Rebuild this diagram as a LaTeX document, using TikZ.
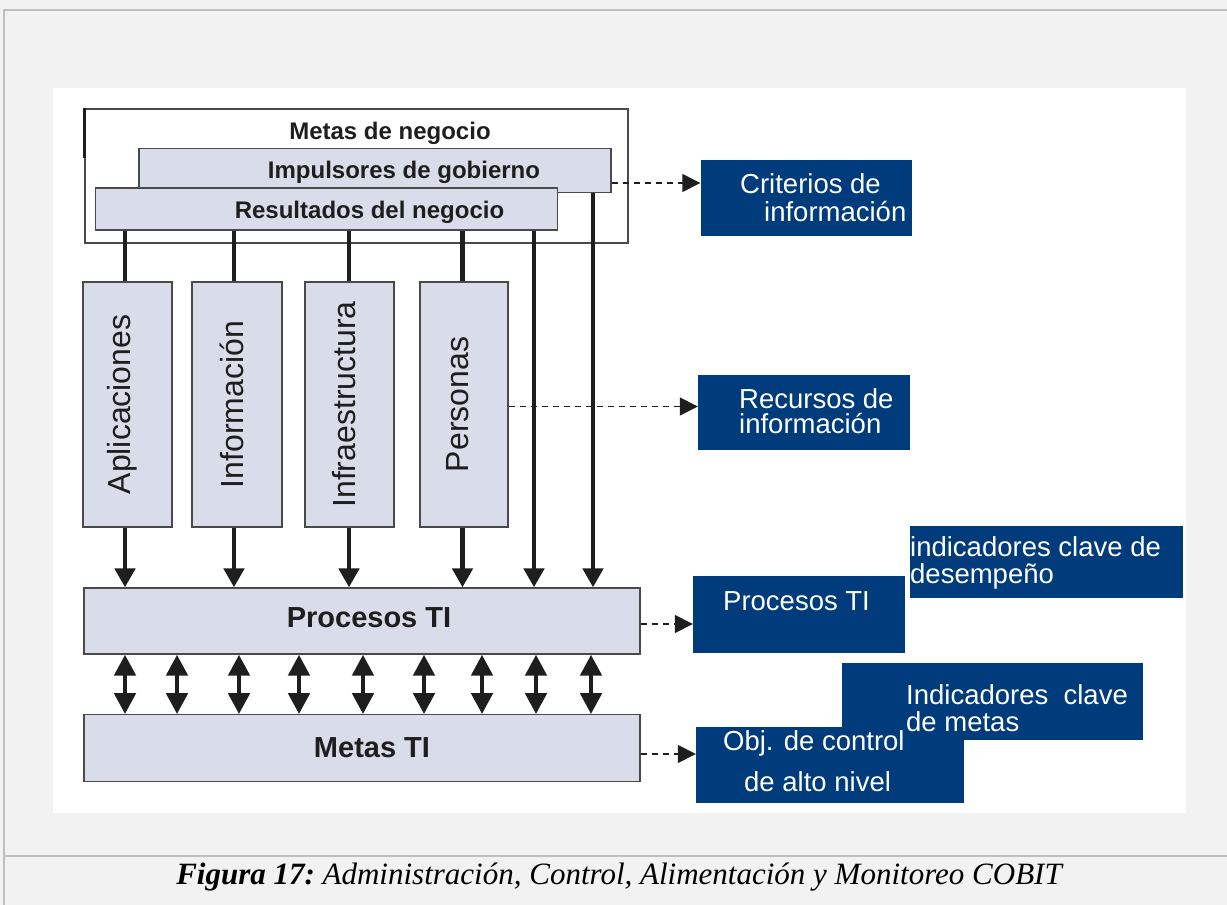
\documentclass[tikz,border=0pt]{standalone}
\usepackage{fontspec}
\setmainfont{Liberation Serif}
\newfontfamily\arialfont{Liberation Sans}
\usetikzlibrary{arrows.meta}

\definecolor{pagegray}{HTML}{F2F2F2}
\definecolor{rulegray}{HTML}{BFBFBF}
\definecolor{lightfill}{HTML}{D9DCE9}
\definecolor{boxline}{HTML}{4A4A4A}
\definecolor{ink}{HTML}{1E1E1E}
\definecolor{cobalt}{HTML}{003B7C}

\begin{document}
\begin{tikzpicture}[x=1pt,y=-1pt,
  framebox/.style={draw=boxline, line width=1.3pt, rectangle, inner sep=0pt},
  lightbox/.style={draw=boxline, fill=lightfill, line width=1.3pt, rectangle, inner sep=0pt},
  bluebox/.style={fill=cobalt, draw=none, rectangle, inner sep=0pt},
  hdr/.style={font=\arialfont\bfseries\fontsize{24}{28}\selectfont, text=ink, inner sep=0pt},
  bighdr/.style={font=\arialfont\bfseries\fontsize{29}{34}\selectfont, text=ink, inner sep=0pt},
  restext/.style={font=\arialfont\fontsize{32}{38}\selectfont, text=ink, inner sep=0pt, rotate=90},
  bluetext/.style={font=\arialfont\fontsize{27.5}{25}\selectfont, text=white, inner sep=0pt,
    anchor=base west, align=left},
  thk/.style={line width=4.8pt, draw=ink},
  thkarrow/.style={thk, -{Triangle[length=19pt,width=20pt]}},
  dblarrow/.style={thk, {Triangle[length=21pt,width=21pt]}-{Triangle[length=21pt,width=21pt]}},
  dsh/.style={line width=1.5pt, draw=ink, dash pattern=on 6pt off 5pt, -{Triangle[length=18pt,width=18pt]}}
]
\useasboundingbox (0,0) rectangle (1227,905);

% page background, rules and white panel
\fill[pagegray] (0,0) rectangle (1227,905);
\draw[rulegray, line width=2pt] (3.5,905) -- (3.5,9.5) -- (1227,9.5);
\draw[rulegray, line width=2pt] (3.5,856) -- (1227,856);
\fill[white] (53,88) rectangle (1186,813);

% business goals frame with its stacked bars
\node[framebox, minimum width=543pt, minimum height=134pt] (goals) at (356.5,176) {};
\draw[ink, line width=2.6pt] (goals.north west) -- ++(0,50);
\node[lightbox, minimum width=472pt, minimum height=44pt] (imp) at (375,170.5) {};
\node[lightbox, minimum width=462pt, minimum height=42pt] (res) at (326.5,209) {};

% IT resources
\node[lightbox, minimum width=89pt, minimum height=245pt] (apl) at (127.5,404.5) {};
\node[lightbox, minimum width=90pt, minimum height=245pt] (inf) at (237,404.5) {};
\node[lightbox, minimum width=89pt, minimum height=245pt] (infra) at (349.5,404.5) {};
\node[lightbox, minimum width=88pt, minimum height=245pt] (per) at (464,404.5) {};

% IT processes and IT goals
\node[lightbox, minimum width=556pt, minimum height=66pt] (proc) at (362,621) {};
\node[lightbox, minimum width=556pt, minimum height=66.5pt] (metas) at (362,748) {};

% blue information boxes
\node[bluebox, minimum width=211pt, minimum height=75.5pt] (crit) at (806,198) {};
\node[bluebox, minimum width=212pt, minimum height=75pt] (rec) at (804,412.5) {};
\node[bluebox, minimum width=212pt, minimum height=77pt] (bproc) at (799,614.5) {};
\node[bluebox, minimum width=273pt, minimum height=72pt] (kpi) at (1046.5,562) {};
\node[bluebox, minimum width=301pt, minimum height=77pt] (kgi) at (992.5,701.5) {};
\node[bluebox, minimum width=268pt, minimum height=76pt] (obj) at (830,765) {};

% column positions of the vertical connectors
\coordinate (c1) at (125,0);
\coordinate (c2) at (234,0);
\coordinate (c3) at (349,0);
\coordinate (c4) at (462.5,0);
\coordinate (c5) at (534,0);
\coordinate (c6) at (593,0);

% dashed links to the information boxes
\coordinate (d1) at ([yshift=-12.5pt]imp.east);
\draw[dsh] (d1) -- (d1 -| crit.west);
\coordinate (d2) at ([yshift=-2pt]per.east);
\draw[dsh] (d2) -- (d2 -| rec.west);
\coordinate (d3) at ([yshift=-3pt]proc.east);
\draw[dsh] (d3) -- (d3 -| bproc.west);
\coordinate (d4) at ([yshift=-6pt]metas.east);
\draw[dsh] (d4) -- (d4 -| obj.west);

% business results feed the resources
\draw[thk] (res.south -| c1) -- (apl.north -| c1);
\draw[thk] (res.south -| c2) -- (inf.north -| c2);
\draw[thk] (res.south -| c3) -- (infra.north -| c3);
\draw[thk] (res.south -| c4) -- (per.north -| c4);

% resources and goals feed the IT processes
\draw[thkarrow] (apl.south -| c1) -- (proc.north -| c1);
\draw[thkarrow] (inf.south -| c2) -- (proc.north -| c2);
\draw[thkarrow] (infra.south -| c3) -- (proc.north -| c3);
\draw[thkarrow] (per.south -| c4) -- (proc.north -| c4);
\draw[thkarrow] (res.south -| c5) -- (proc.north -| c5);
\draw[thkarrow] (imp.south -| c6) -- (proc.north -| c6);

% two-way links between IT processes and IT goals
\foreach \i/\x in {1/125,2/177,3/239,4/299,5/363,6/424,7/482,8/536,9/591}{
  \coordinate (b\i) at (\x,0);
  \draw[dblarrow] (proc.south -| b\i) -- (metas.north -| b\i);
}

% labels
\node[hdr, anchor=base] (goalsT) at (390,139) {Metas de negocio};
\node[hdr, anchor=base] (impT) at (404,178) {Impulsores de gobierno};
\node[hdr, anchor=base] (resT) at (369.5,218) {Resultados del negocio};
\node[restext] (aplT) at ([xshift=-5pt]apl.center) {Aplicaciones};
\node[restext] (infT) at ([xshift=-5pt]inf.center) {Información};
\node[restext] (infraT) at ([xshift=-5pt]infra.center) {Infraestructura};
\node[restext] (perT) at ([xshift=-6pt]per.center) {Personas};
\node[bighdr, anchor=base] (procT) at (369,627.5) {Procesos TI};
\node[bighdr, anchor=base] (metasT) at (372,757) {Metas TI};

% two-line labels are placed by the baseline of their last line
\node[bluetext, font=\arialfont\fontsize{27.5}{28.5}\selectfont] (critT) at (740,221.5)
  {Criterios de\\\hspace*{24pt}información};
\node[bluetext] (recT) at (739,433.5) {Recursos de\\información};
\node[bluetext] (bprocT) at (723,610.5) {Procesos TI};
\node[bluetext, font=\arialfont\fontsize{27.5}{27}\selectfont] (kpiT) at (910,583)
  {indicadores clave de\\desempeño};
\node[bluetext, font=\arialfont\fontsize{27.5}{27.5}\selectfont] (kgiT) at (906,731.5)
  {Indicadores\ \ clave\\de metas};
\node[bluetext, font=\arialfont\fontsize{27.5}{41.5}\selectfont] (objT) at (723,791.5)
  {Obj. de control\\\hspace*{21pt}de alto nivel};

% caption
\node[font=\fontsize{31}{36}\selectfont, text=black, inner sep=0pt] (cap) at (619,877)
  {\bfseries\itshape Figura 17:\mdseries\ Administración, Control, Alimentación y Monitoreo COBIT};
\end{tikzpicture}
\end{document}
